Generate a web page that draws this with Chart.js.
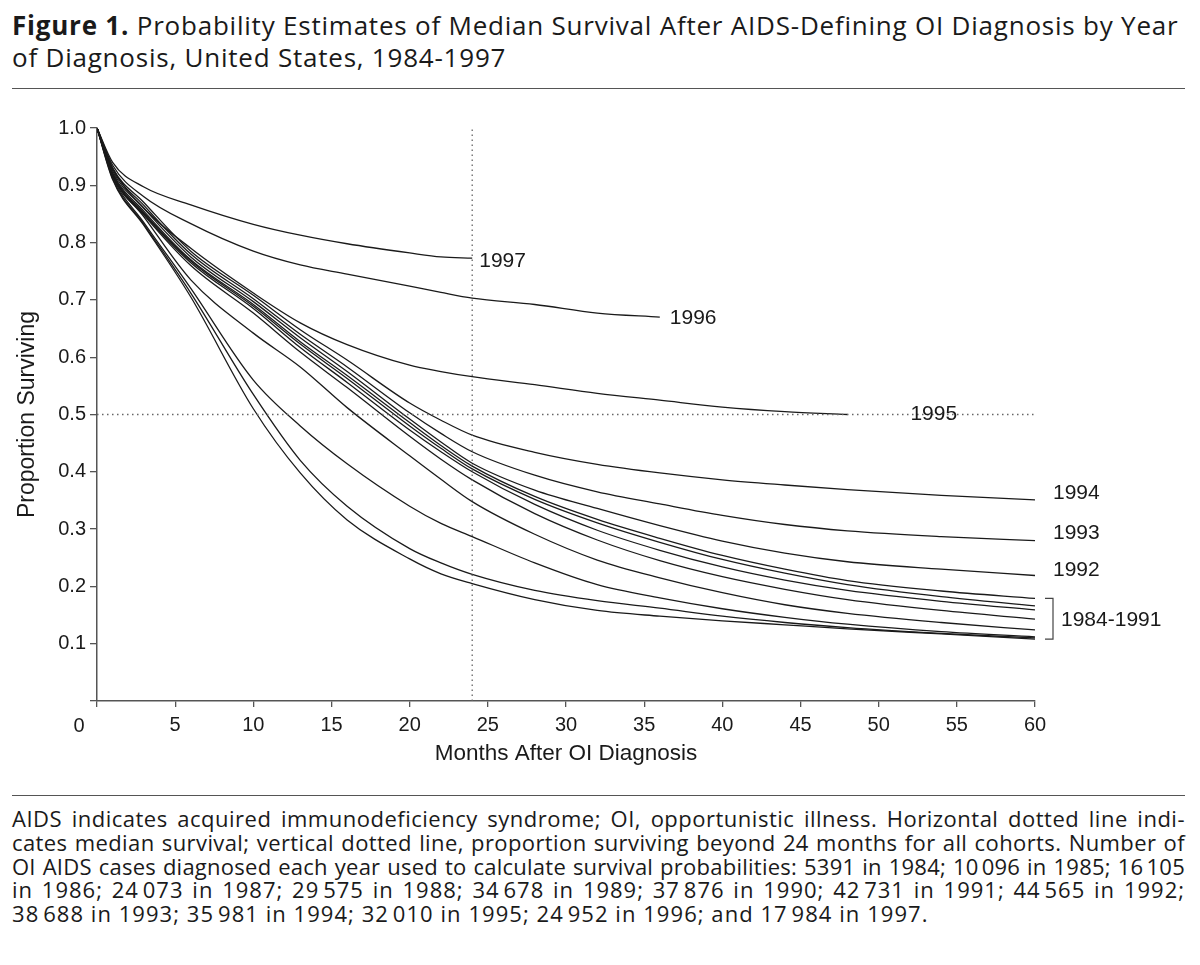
<!DOCTYPE html>
<html>
<head>
<meta charset="utf-8">
<script src="https://cdn.jsdelivr.net/npm/chart.js@4.4.1/dist/chart.umd.min.js"></script>
<style>
  html, body { margin: 0; padding: 0; background: #fff; }
  body { width: 1200px; height: 965px; position: relative; overflow: hidden; font-family: 'Open Sans', sans-serif; color: #1a1a1a; }
  .title { position: absolute; left: 12px; top: 9px; font-size: 26px; line-height: 32px; letter-spacing: 0.78px; white-space: nowrap; }
  .title b { font-weight: 700; }
  .rule { position: absolute; left: 12px; width: 1173px; height: 0; border-top: 1.5px solid #555; }
  .chart-box { position: absolute; left: 0; top: 100px; width: 1200px; height: 680px; }
  .caption { position: absolute; left: 12px; top: 807px; width: 1173px; font-size: 22px; line-height: 23.8px; }
  .caption div { text-align: justify; text-align-last: justify; white-space: nowrap; }
  .caption div.last { text-align-last: left; }
</style>
</head>
<body>
<div class="title"><b>Figure 1.</b> Probability Estimates of Median Survival After AIDS-Defining OI Diagnosis by Year<br>of Diagnosis, United States, 1984-1997</div>
<div class="rule" style="top:88px"></div>
<div class="chart-box"><canvas id="chart" width="1200" height="680"></canvas></div>
<div class="rule" style="top:795px"></div>
<div class="caption">
  <div style="letter-spacing:0.5px">AIDS indicates acquired immunodeficiency syndrome; OI, opportunistic illness. Horizontal dotted line indi-</div>
  <div style="letter-spacing:0.4px">cates median survival; vertical dotted line, proportion surviving beyond 24 months for all cohorts. Number of</div>
  <div style="letter-spacing:0.25px">OI AIDS cases diagnosed each year used to calculate survival probabilities: 5391 in 1984; 10&#8239;096 in 1985; 16&#8239;105</div>
  <div style="letter-spacing:1px">in 1986; 24&#8239;073 in 1987; 29&#8239;575 in 1988; 34&#8239;678 in 1989; 37&#8239;876 in 1990; 42&#8239;731 in 1991; 44&#8239;565 in 1992;</div>
  <div class="last" style="letter-spacing:1.05px">38&#8239;688 in 1993; 35&#8239;981 in 1994; 32&#8239;010 in 1995; 24&#8239;952 in 1996; and 17&#8239;984 in 1997.</div>
</div>
<script>
// months after OI diagnosis at which the curves were read
const months = [0, 1, 3, 6, 10, 13, 16, 20, 22, 24, 28, 32, 36, 40, 44, 48, 54, 60];

// proportion surviving, one array per diagnosis year (null = no follow-up yet)
const s1997 = [1, 0.94, 0.897, 0.866, 0.832, 0.813, 0.798, 0.782, 0.775, 0.773, null, null, null, null, null, null, null, null];
const s1996 = [1, 0.935, 0.88, 0.833, 0.785, 0.761, 0.745, 0.724, 0.713, 0.703, 0.692, 0.677, 0.670, null, null, null, null, null];
const s1995 = [1, 0.93, 0.86, 0.79, 0.712, 0.66, 0.622, 0.586, 0.575, 0.566, 0.552, 0.537, 0.525, 0.513, 0.505, 0.50, null, null];
const s1994 = [1, 0.93, 0.87, 0.785, 0.708, 0.648, 0.595, 0.52, 0.49, 0.464, 0.434, 0.413, 0.398, 0.386, 0.377, 0.369, 0.359, 0.351];
const s1993 = [1, 0.928, 0.865, 0.78, 0.702, 0.64, 0.583, 0.503, 0.467, 0.435, 0.394, 0.365, 0.344, 0.324, 0.308, 0.297, 0.287, 0.280];
const s1992 = [1, 0.925, 0.86, 0.775, 0.697, 0.634, 0.575, 0.492, 0.452, 0.415, 0.368, 0.336, 0.306, 0.279, 0.258, 0.243, 0.23, 0.219];
const s1991 = [1, 0.922, 0.855, 0.77, 0.692, 0.627, 0.568, 0.486, 0.446, 0.41, 0.357, 0.317, 0.284, 0.254, 0.23, 0.21, 0.192, 0.179];
const s1990 = [1, 0.92, 0.852, 0.768, 0.689, 0.623, 0.563, 0.48, 0.441, 0.405, 0.352, 0.311, 0.277, 0.247, 0.223, 0.203, 0.182, 0.166];
const s1989 = [1, 0.918, 0.85, 0.765, 0.685, 0.617, 0.556, 0.473, 0.435, 0.40, 0.343, 0.298, 0.263, 0.234, 0.211, 0.193, 0.174, 0.159];
const s1988 = [1, 0.916, 0.848, 0.76, 0.677, 0.609, 0.547, 0.462, 0.422, 0.386, 0.327, 0.281, 0.245, 0.217, 0.195, 0.177, 0.158, 0.143];
const s1987 = [1, 0.918, 0.845, 0.735, 0.642, 0.583, 0.512, 0.428, 0.387, 0.348, 0.291, 0.246, 0.215, 0.189, 0.168, 0.153, 0.137, 0.124];
const s1986 = [1, 0.915, 0.835, 0.72, 0.56, 0.48, 0.414, 0.34, 0.31, 0.287, 0.241, 0.203, 0.18, 0.161, 0.146, 0.134, 0.121, 0.112];
const s1985 = [1, 0.912, 0.832, 0.712, 0.535, 0.42, 0.34, 0.266, 0.241, 0.221, 0.193, 0.175, 0.162, 0.148, 0.137, 0.128, 0.118, 0.110];
const s1984 = [1, 0.91, 0.83, 0.705, 0.51, 0.398, 0.316, 0.248, 0.222, 0.205, 0.177, 0.158, 0.148, 0.14, 0.133, 0.126, 0.117, 0.108];

const years = ['1997', '1996', '1995', '1994', '1993', '1992', '1991', '1990', '1989', '1988', '1987', '1986', '1985', '1984'];
const series = [s1997, s1996, s1995, s1994, s1993, s1992, s1991, s1990, s1989, s1988, s1987, s1986, s1985, s1984];

const medianLevel = 0.5;
const markMonth = 24;
const xTicks = [0, 5, 10, 15, 20, 25, 30, 35, 40, 45, 50, 55, 60];
const yTicks = [0, 0.1, 0.2, 0.3, 0.4, 0.5, 0.6, 0.7, 0.8, 0.9, 1.0];

const axisColor = '#555';
const lineColor = '#1a1a1a';
const dotColor = '#666';
const chartFont = "'Liberation Sans', Arial, sans-serif";

function toPoints(vals) {
    const pts = [];
    vals.forEach((v, i) => { if (v !== null) pts.push({ x: months[i], y: v }); });
    return pts;
}

const curveSets = series.map((vals, i) => ({
    label: years[i],
    data: toPoints(vals),
    borderColor: lineColor,
    borderWidth: 1.3,
    pointRadius: 0,
    cubicInterpolationMode: 'monotone',
    fill: false
}));

const refSets = [
    {
        label: 'median',
        data: [{ x: xTicks[0], y: medianLevel }, { x: xTicks[xTicks.length - 1], y: medianLevel }],
        borderColor: dotColor, borderWidth: 1.3, borderDash: [1.5, 3.5], pointRadius: 0, tension: 0
    },
    {
        label: '24 months',
        data: [{ x: markMonth, y: yTicks[0] }, { x: markMonth, y: yTicks[yTicks.length - 1] }],
        borderColor: dotColor, borderWidth: 1.3, borderDash: [1.5, 3.5], pointRadius: 0, tension: 0
    }
];

// year labels next to the curve ends, plus the bracket for 1984-1991
const curveLabels = {
    id: 'curveLabels',
    afterDatasetsDraw(chart) {
        const { ctx, scales: { x, y } } = chart;
        const endOf = yr => { const d = curveSets[years.indexOf(yr)].data; return d[d.length - 1]; };
        const px = p => [x.getPixelForValue(p.x), y.getPixelForValue(p.y)];
        ctx.save();
        ctx.font = '21px ' + chartFont;
        ctx.fillStyle = lineColor;
        ctx.textBaseline = 'middle';
        ctx.textAlign = 'left';

        const put = (yr, dx, dy) => { const [ex, ey] = px(endOf(yr)); ctx.fillText(yr, ex + dx, ey + dy); };
        put('1997', 7, 3);
        put('1996', 10, 1);
        put('1995', 63, 0);
        put('1994', 18, -7);
        put('1993', 18, -7);
        put('1992', 18, -5);

        const [bx, topY] = px(endOf('1991'));
        const [, botY] = px(endOf('1984'));
        const lx = bx + 18;
        ctx.strokeStyle = '#444';
        ctx.lineWidth = 1.2;
        ctx.beginPath();
        ctx.moveTo(lx - 8, topY);
        ctx.lineTo(lx, topY);
        ctx.lineTo(lx, botY);
        ctx.lineTo(lx - 8, botY);
        ctx.stroke();
        ctx.fillText('1984-1991', lx + 8, (topY + botY) / 2 + 1);

        // origin label sits left of the axis corner
        ctx.font = '20px ' + chartFont;
        ctx.textAlign = 'center';
        ctx.textBaseline = 'top';
        ctx.fillText('0', x.getPixelForValue(0) - 18, y.bottom + 15);
        ctx.restore();
    }
};

new Chart(document.getElementById('chart'), {
    type: 'line',
    data: { datasets: [...refSets, ...curveSets] },
    plugins: [curveLabels],
    options: {
        responsive: false,
        animation: false,
        events: [],
        layout: { padding: { top: 28, right: 165, left: 0, bottom: 0 } },
        plugins: { legend: { display: false }, tooltip: { enabled: false } },
        scales: {
            x: {
                type: 'linear',
                min: 0,
                max: 60,
                afterBuildTicks: s => { s.ticks = xTicks.map(v => ({ value: v })); },
                afterFit: s => { s.height = 79; },
                ticks: {
                    color: lineColor,
                    font: { family: chartFont, size: 20 },
                    padding: 6,
                    maxRotation: 0,
                    callback: v => v === 0 ? '' : String(v)
                },
                grid: { drawOnChartArea: false, drawTicks: true, tickLength: 6, color: axisColor, lineWidth: 1.3 },
                border: { color: axisColor, width: 1.5 },
                title: {
                    display: true,
                    text: 'Months After OI Diagnosis',
                    color: lineColor,
                    font: { family: chartFont, size: 22.5 },
                    padding: { top: 0, bottom: 13 }
                }
            },
            y: {
                min: 0,
                max: 1,
                afterBuildTicks: s => { s.ticks = yTicks.map(v => ({ value: v })); },
                afterFit: s => { s.width = 97; },
                ticks: {
                    color: lineColor,
                    font: { family: chartFont, size: 20 },
                    padding: 4,
                    callback: v => v === 0 ? '' : v.toFixed(1)
                },
                grid: { drawOnChartArea: false, drawTicks: true, tickLength: 7, color: axisColor, lineWidth: 1.3 },
                border: { color: axisColor, width: 1.5 },
                title: {
                    display: true,
                    text: 'Proportion Surviving',
                    color: lineColor,
                    font: { family: chartFont, size: 23 },
                    padding: 14
                }
            }
        }
    }
});
</script>
</body>
</html>
